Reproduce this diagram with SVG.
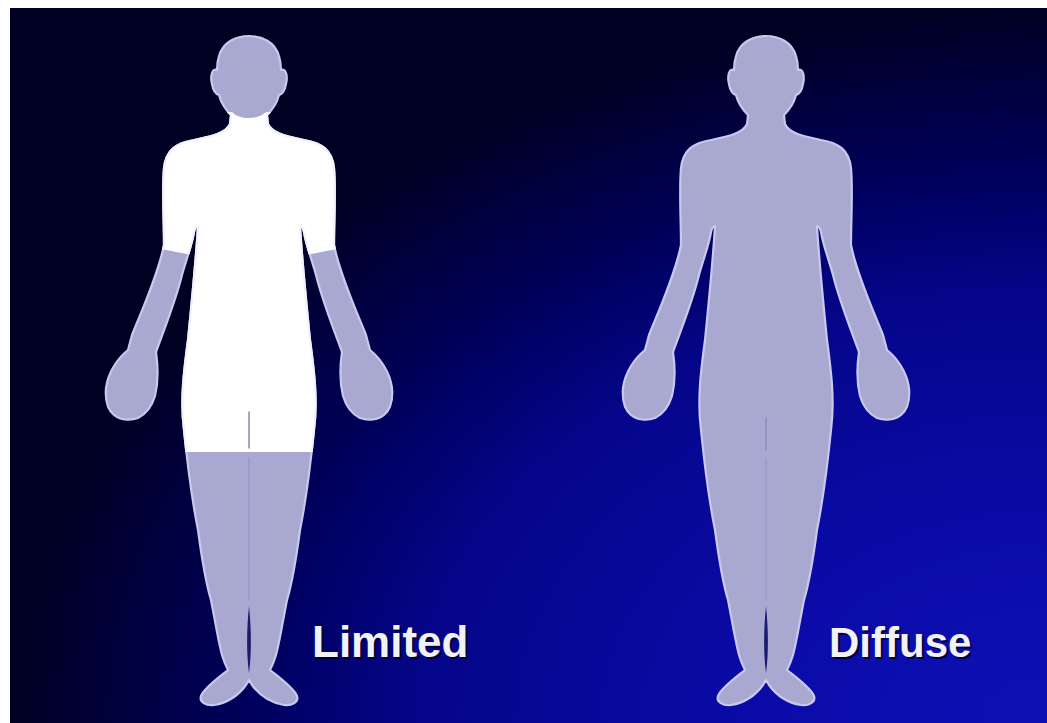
<svg xmlns="http://www.w3.org/2000/svg" xmlns:xlink="http://www.w3.org/1999/xlink" width="1047" height="723" viewBox="0 0 1047 723">
  <defs>
    <radialGradient id="bg" cx="1" cy="1" r="1" gradientUnits="objectBoundingBox">
      <stop offset="0" stop-color="#0e10b6"/>
      <stop offset="0.3" stop-color="#0a0ba6"/>
      <stop offset="0.6" stop-color="#05068a"/>
      <stop offset="0.75" stop-color="#000062"/>
      <stop offset="0.9" stop-color="#00003c"/>
      <stop offset="1" stop-color="#000022"/>
    </radialGradient>
    <!-- standing figure, front view, centred on x=249 -->
    <path id="body" d="M249,36 C262,36 275,42 279,56 C281,62 281,66 281,70 C286,68 288,76 286,84 C285,90 282,94 279,95 C277,103 272,110 267,115 L268,124 C272,134 290,137 304,140 C322,143 332,150 334,168 C336,190 334,220 334,245 C340,275 356,310 366,335 L370,350 C380,358 390,372 392,388 C393,400 390,410 384,415 C378,420 368,421 360,418 C352,414 346,406 343,396 C340,384 340,366 342,352 C334,330 322,300 316,275 C312,260 306,245 304,232 C303,228 302,226 300,226 C302,260 306,300 310,340 C314,370 318,400 314,430 C310,470 304,510 300,530 C296,560 290,590 287,600 C283,620 280,640 276,655 C274,662 272,666 270,670 C280,678 294,688 297,696 C299,702 292,706 284,705 C272,703 260,696 252,685 L249,680 L246,685 C238,696 226,703 214,705 C206,706 199,702 201,696 C204,688 218,678 228,670 C226,666 224,662 222,655 C218,640 215,620 211,600 C208,590 202,560 198,530 C194,510 188,470 184,430 C180,400 184,370 188,340 C192,300 196,260 198,226 C196,226 195,228 194,232 C192,245 186,260 182,275 C176,300 164,330 156,352 C158,366 158,384 155,396 C152,406 146,414 138,418 C130,421 120,420 114,415 C108,410 105,400 106,388 C108,372 118,358 128,350 L132,335 C142,310 158,275 164,245 C164,220 162,190 164,168 C166,150 176,143 194,140 C208,137 226,134 230,124 L231,115 C226,110 221,103 219,95 C216,94 213,90 212,84 C210,76 212,68 217,70 C217,66 217,62 219,56 C223,42 236,36 249,36 Z"/>
    <!-- neck, trunk, upper arms and upper thighs -->
    <clipPath id="limitedZone" clipPathUnits="userSpaceOnUse">
      <path d="M130,112 L232,112 C236,116 242,118 249,118 C256,118 262,116 266,112 L368,112 L368,243 L306,255 L312,300 L320,340 L328,420 L338,452 L160,452 L170,420 L178,340 L186,300 L192,255 L130,243 Z"/>
    </clipPath>
  </defs>
  <style>
    .skin { fill: #a9a8d1; stroke: #c9c8ef; stroke-width: 2.2; stroke-linejoin: round; }
    .spared { fill: #ffffff; stroke: #f2f2ff; stroke-width: 2.2; stroke-linejoin: round; }
    .seam { stroke: #8f8ec0; stroke-width: 1.6; fill: none; stroke-linecap: round; }
    .gap { fill: #1a1a70; }
    .label { font-family: "Liberation Sans", Arial, sans-serif; font-weight: bold; fill: #f2f2f4; }
    .label-shadow { font-family: "Liberation Sans", Arial, sans-serif; font-weight: bold; fill: #000030; opacity: 0.85; }
  </style>

  <!-- frame and backdrop -->
  <rect x="0" y="0" width="1047" height="723" fill="#ffffff"/>
  <rect x="10" y="8" width="1037" height="715" fill="url(#bg)"/>

  <g id="figure-limited">
    <use xlink:href="#body" href="#body" class="skin"/>
    <use xlink:href="#body" href="#body" class="spared" clip-path="url(#limitedZone)"/>
    <path class="seam" d="M249,412 L249,448"/>
    <path class="seam" d="M249,458 L249,600" opacity="0.5"/>
    <path class="gap" d="M249,606 C251.5,630 251.5,655 249,673 C246.5,655 246.5,630 249,606 Z"/>
    <text class="label-shadow" x="314" y="659" font-size="44">Limited</text>
    <text class="label" x="312" y="657" font-size="44">Limited</text>
  </g>

  <g id="figure-diffuse">
    <g transform="translate(517,0)">
      <use xlink:href="#body" href="#body" class="skin"/>
      <path class="seam" d="M249,418 L249,450"/>
      <path class="seam" d="M249,458 L249,600" opacity="0.5"/>
      <path class="gap" d="M249,606 C251.5,630 251.5,655 249,673 C246.5,655 246.5,630 249,606 Z"/>
    </g>
    <text class="label-shadow" x="831" y="659" font-size="42">Diffuse</text>
    <text class="label" x="829" y="657" font-size="42">Diffuse</text>
  </g>
</svg>
